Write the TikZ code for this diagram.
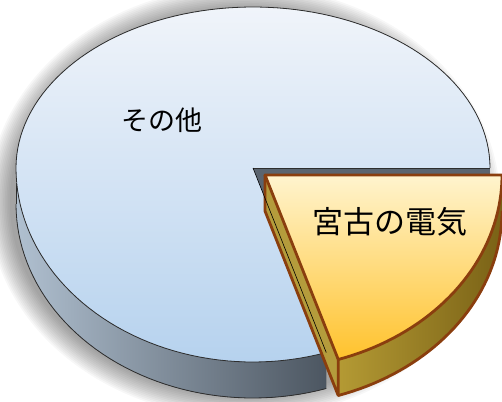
\documentclass[tikz,border=0pt]{standalone}
\usepackage{fontspec}
\usetikzlibrary{calc}
\newfontfamily\jp{Noto Sans CJK JP}
\definecolor{bluetopA}{HTML}{F0F4FA}
\definecolor{bluetopB}{HTML}{B6D2EE}
\definecolor{bluesideA}{HTML}{B0C0D0}
\definecolor{bluesideB}{HTML}{4C5661}
\definecolor{cutgray}{HTML}{5A646F}
\definecolor{slicetopA}{HTML}{FFF4CE}
\definecolor{slicetopB}{HTML}{FFC22C}
\definecolor{slicesideA}{HTML}{B49A34}
\definecolor{slicesideB}{HTML}{7A6216}
\definecolor{slicecut}{HTML}{B49C3C}
\definecolor{slicebrown}{HTML}{8A3E0E}
\definecolor{rimline}{HTML}{2E2E2E}
\begin{document}
\begin{tikzpicture}[x=1pt,y=-1pt,
  rim/.style={draw=rimline,line width=0.8pt,line join=round},
  sliceline/.style={draw=slicebrown,line width=2.8pt,line join=round},
  lbl/.style={font=\jp,text=black,inner sep=0pt}]
\useasboundingbox (0,0) rectangle (502,401);
\def\cx{253}\def\cy{168}\def\rx{237}\def\ryl{194}\def\ryu{161}\def\T{36}
% soft shadow
\foreach \i in {0,...,13}{
  \fill[black,opacity=0.03] (244,202) ellipse [x radius={234pt+\i*1.7pt}, y radius={194pt+\i*1.7pt}];
}
% blue pie side
\fill[left color=bluesideA,right color=bluesideB]
  plot[domain=72:180,samples=50,variable=\t] ({\cx+\rx*cos(\t)},{\cy+\ryl*sin(\t)})
  -- plot[domain=180:72,samples=50,variable=\t] ({\cx+\rx*cos(\t)},{\cy+\T+\ryl*sin(\t)}) -- cycle;
\draw[rim] plot[domain=180:72,samples=50,variable=\t] ({\cx+\rx*cos(\t)},{\cy+\T+\ryl*sin(\t)});
\draw[rim] ({\cx-\rx},\cy) -- ({\cx-\rx},{\cy+\T});
% blue cut face at angle 0
\fill[cutgray] (\cx,\cy) rectangle ({\cx+\rx},{\cy+\T});
\draw[rim] (\cx,\cy) -- (\cx,{\cy+\T});
% blue top face
\fill[top color=bluetopA,bottom color=bluetopB]
  plot[domain=72:180,samples=50,variable=\t] ({\cx+\rx*cos(\t)},{\cy+\ryl*sin(\t)})
  -- plot[domain=180:360,samples=80,variable=\t] ({\cx+\rx*cos(\t)},{\cy+\ryu*sin(\t)})
  -- (\cx,\cy) -- cycle;
\draw[rim]
  plot[domain=72:180,samples=50,variable=\t] ({\cx+\rx*cos(\t)},{\cy+\ryl*sin(\t)})
  -- plot[domain=180:360,samples=80,variable=\t] ({\cx+\rx*cos(\t)},{\cy+\ryu*sin(\t)});
\draw[rim] (\cx,\cy) -- ({\cx+\rx},\cy);
% exploded slice
\begin{scope}[shift={(12,7)}]
  \coordinate (sc) at (\cx,\cy);
  \coordinate (sr) at ({\cx+\rx},\cy);
  \coordinate (sp) at ({\cx+\rx*cos(72)},{\cy+\ryl*sin(72)});
  \coordinate (spb) at ({\cx+\rx*cos(72)},{\cy+\T+\ryl*sin(72)});
  \coordinate (scb) at (\cx,{\cy+\T});
  % outer side
  \fill[left color=slicesideA,right color=slicesideB]
    plot[domain=0:72,samples=40,variable=\t] ({\cx+\rx*cos(\t)},{\cy+\ryl*sin(\t)})
    -- plot[domain=72:0,samples=40,variable=\t] ({\cx+\rx*cos(\t)},{\cy+\T+\ryl*sin(\t)}) -- cycle;
  % cut face (left)
  \fill[slicecut] (sc) -- (sp) -- (spb) -- (scb) -- cycle;
  \draw[sliceline]
    plot[domain=72:0,samples=40,variable=\t] ({\cx+\rx*cos(\t)},{\cy+\T+\ryl*sin(\t)});
  \draw[sliceline] (sp) -- (spb) -- (scb) -- (sc);
  % top face
  \fill[top color=slicetopA,bottom color=slicetopB]
    (sc) -- (sr) -- plot[domain=0:72,samples=40,variable=\t] ({\cx+\rx*cos(\t)},{\cy+\ryl*sin(\t)}) -- cycle;
  \draw[sliceline]
    (sc) -- (sr) -- plot[domain=0:72,samples=40,variable=\t] ({\cx+\rx*cos(\t)},{\cy+\ryl*sin(\t)}) -- cycle;
\end{scope}
% blue radius edge seen through the slice strip
\draw[black,line width=0.6pt] (\cx,\cy) -- ({\cx+\rx*cos(72)},{\cy+\ryl*sin(72)});
% labels
\node[lbl,font=\jp\fontsize{27}{27}\selectfont] (other) at (162,120) {その他};
\node[lbl,font=\jp\fontsize{31}{31}\selectfont] (miyako) at (390,222) {宮古の電気};
\end{tikzpicture}
\end{document}
